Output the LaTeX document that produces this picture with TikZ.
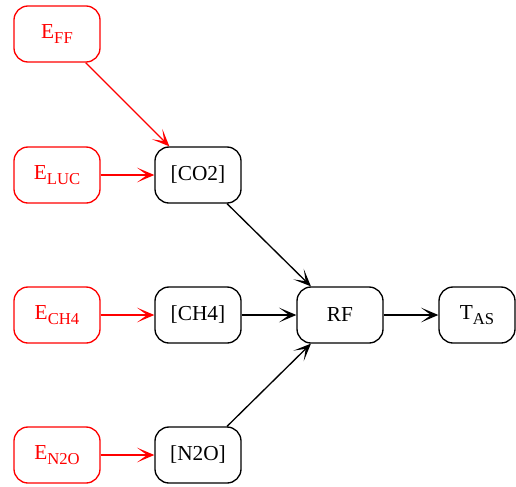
\documentclass[tikz,border=0pt]{standalone}
\usepackage{fontspec}
\setmainfont{Liberation Serif}
\usetikzlibrary{arrows.meta}
\newcommand{\lowsub}[1]{\raisebox{-4pt}{\fontsize{12.5}{13}\selectfont #1}}

\begin{document}
\begin{tikzpicture}[x=0.75pt, y=-0.75pt,
  box/.style={draw, rounded corners=10.5pt, line width=1pt, minimum width=64.5pt, minimum height=42pt, inner sep=1pt, font=\fontsize{16}{18}\selectfont},
  src/.style={box, red},
  lnk/.style={line width=1pt, -{Stealth[length=13pt, width=11pt, inset=7.5pt]}}]
\useasboundingbox (0,0) rectangle (516,486);
\node[src] (eff) at (57,34) {E\lowsub{FF}};
\node[src] (eluc) at (57,175) {E\lowsub{LUC}};
\node[src] (ech4) at (57,315) {E\lowsub{CH4}};
\node[src] (en2o) at (57,455) {E\lowsub{N2O}};
\node[box] (co2) at (198,175) {[CO2]};
\node[box] (ch4) at (198,315) {[CH4]};
\node[box] (n2o) at (198,455) {[N2O]};
\node[box] (rf) at (340,315) {RF};
\node[box, minimum width=57pt] (tas) at (477,315) {T\lowsub{AS}};
\draw[lnk, red] (eff) -- (co2);
\draw[lnk, red] (eluc) -- (co2);
\draw[lnk, red] (ech4) -- (ch4);
\draw[lnk, red] (en2o) -- (n2o);
\draw[lnk] (co2) -- (rf);
\draw[lnk] (ch4) -- (rf);
\draw[lnk] (n2o) -- (rf);
\draw[lnk] (rf) -- (tas);
\end{tikzpicture}
\end{document}
